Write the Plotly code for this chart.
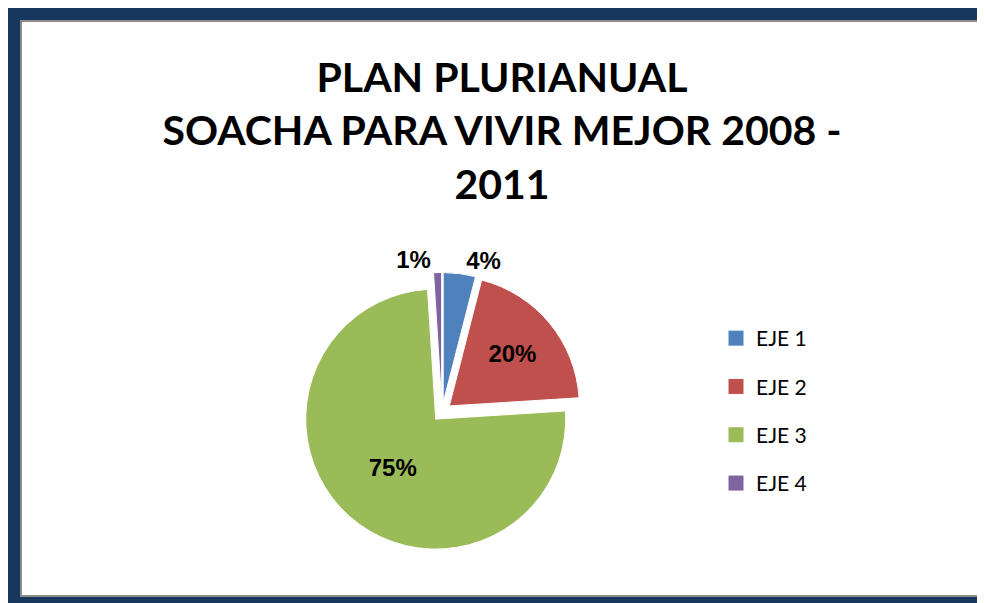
import plotly.graph_objects as go

labels = ["EJE 1", "EJE 2", "EJE 3", "EJE 4"]
values = [4, 20, 75, 1]
colors = ["#4F81BD", "#C0504D", "#9BBB59", "#8064A2"]
text_positions = ["outside", "inside", "inside", "outside"]
title_lines = ["PLAN PLURIANUAL", "SOACHA PARA VIVIR MEJOR 2008 -", "2011"]

W, H = 985, 603
OFF = 8  # page body margin: the figure starts at (8, 8) in the window
def px(x):
    return (x - OFF) / W
def py(y):
    return 1 - (y - OFF) / H

label_font = dict(family="Liberation Sans, Arial, sans-serif",
                  size=24, color="black", weight="bold")

fig = go.Figure()
fig.add_trace(go.Pie(
    labels=labels, values=values, sort=False, direction="clockwise", rotation=0,
    marker=dict(colors=colors, line=dict(color="white", width=1)),
    pull=[0.073] * len(values),
    texttemplate="%{percent:.0%}", textposition=text_positions,
    insidetextorientation="horizontal",
    textfont=label_font, insidetextfont=label_font, outsidetextfont=label_font,
    domain=dict(x=[px(302.5), px(581.5)], y=[py(551.5), py(272.5)]),
    showlegend=False, hoverinfo="label+percent",
))

# legend entries (one per slice) so spacing can match the original
for lab, col in zip(labels, colors):
    fig.add_trace(go.Scatter(
        x=[None], y=[None], mode="markers", name=lab, legendgroup=lab,
        marker=dict(symbol="square", size=15, color=col),
        showlegend=True,
    ))

fig.update_layout(
    width=W, height=H,
    margin=dict(l=0, r=0, t=0, b=0),
    paper_bgcolor="#17375E", plot_bgcolor="rgba(0,0,0,0)",
    xaxis=dict(visible=False), yaxis=dict(visible=False),
    title=dict(text="<br>".join(title_lines), x=px(502), xanchor="center",
               y=py(92), yanchor="middle", yref="container",
               font=dict(family="Lato, Carlito, Calibri, sans-serif", size=41,
                         color="black", weight="bold")),
    legend=dict(x=px(716), xanchor="left", y=py(318), yanchor="top",
                font=dict(family="Lato, Carlito, Calibri, sans-serif", size=21, color="black"),
                tracegroupgap=18, bgcolor="rgba(0,0,0,0)"),
    shapes=[
        dict(type="rect", xref="paper", yref="paper", x0=px(21), y0=py(596), x1=px(981), y1=py(21),
             fillcolor="white", line=dict(color="#8C8C8C", width=2), layer="below"),
    ],
)

fig.write_html("out.html")
